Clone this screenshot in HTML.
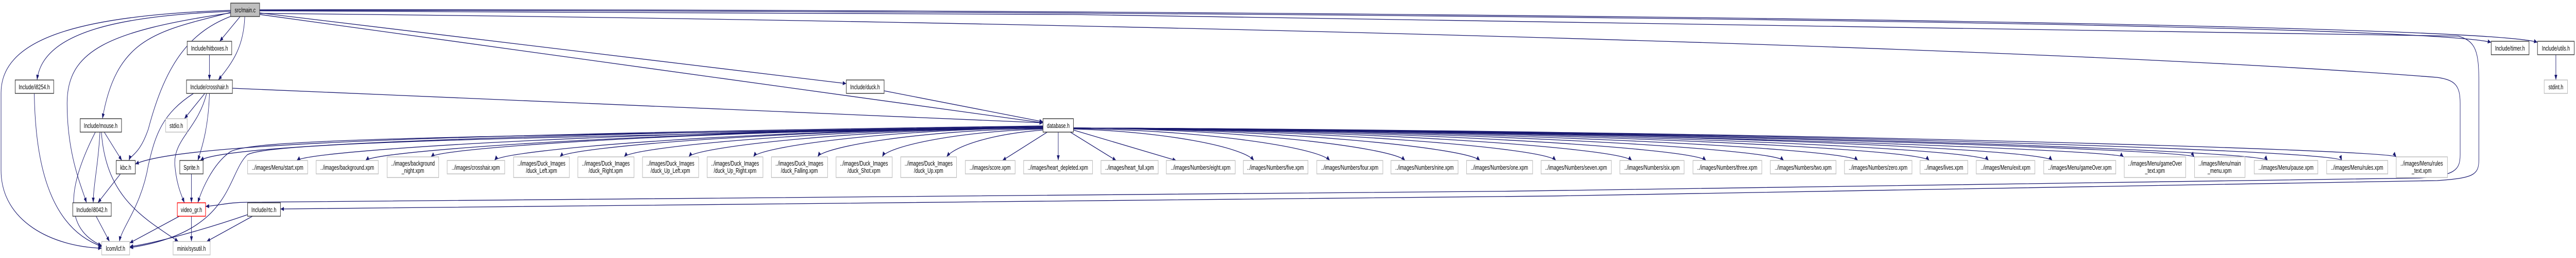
<!DOCTYPE html>
<html><head><meta charset="utf-8"><style>
html,body{margin:0;padding:0;background:#fff;overflow:hidden;width:100vw;height:100vh;}
svg{display:block;width:100vw;height:100vh;}
text{font-family:"Liberation Sans",sans-serif;font-size:13px;fill:#000;text-anchor:middle;}
.n{fill:#fff;stroke:#404040;stroke-width:1.5;}
.l{fill:#fff;stroke:#bfbfbf;stroke-width:1.5;}
.e{fill:none;stroke:#191970;stroke-width:1.3;marker-end:url(#a);}
</style></head><body>
<svg viewBox="0 0 7293 500" preserveAspectRatio="none" xmlns="http://www.w3.org/2000/svg">
<defs><marker id="a" markerUnits="userSpaceOnUse" markerWidth="11" markerHeight="9" refX="10" refY="4" orient="auto"><path d="M0,0 L10,4 L0,8 z" fill="#191970"/></marker></defs>

<path class="e" d="M653,22 C350,30 120,60 105,155"/>
<path class="e" d="M653,20 C200,30 3,80 3,180 L3,330 C3,430 150,478 288,481"/>
<path class="e" d="M653,24 C450,60 330,70 290,230"/>
<path class="e" d="M653,25 C300,60 190,100 190,200 C190,300 230,360 245,393"/>
<path class="e" d="M660,30 C540,60 470,120 420,250 C395,300 370,300 365,311"/>
<path class="e" d="M680,32 L622,80"/>
<path class="e" d="M693,32 C690,90 660,120 618,155"/>
<path class="e" d="M735,25 L2396,162"/>
<path class="e" d="M735,28 L2953,238"/>
<path class="e" d="M735,20 C3000,20 6800,40 7053,82"/>
<path class="e" d="M735,19 C3000,16 7000,40 7184,82"/>
<path class="e" d="M735,21 C3000,22 6850,50 6960,70 C7010,80 7018,100 7018,160 L7018,310 C7018,340 7000,345 6900,350 C5000,380 1500,405 794,405"/>
<path class="e" d="M735,26 C3000,40 5800,90 6900,150 C6950,155 6965,165 6965,200 L6965,300 C6965,330 6950,340 6850,345 C5000,370 1500,390 700,392 C650,392 620,398 582,400"/>
<path class="e" d="M593,106 L593,155"/>
<path class="e" d="M580,181 L522,230"/>
<path class="e" d="M593,181 C590,250 570,290 560,311"/>
<path class="e" d="M585,181 C560,250 490,270 495,320 C500,360 515,380 522,393"/>
<path class="e" d="M548,181 C460,220 440,260 420,320 C400,400 345,440 338,468"/>
<path class="e" d="M658,171 L2953,238"/>
<path class="e" d="M2503,176 L2953,236"/>
<path class="e" d="M295,256 L345,311"/>
<path class="e" d="M283,256 C278,320 264,360 264,393"/>
<path class="e" d="M270,256 C200,350 170,440 288,476"/>
<path class="e" d="M287,256 C300,380 400,420 505,468"/>
<path class="e" d="M341,337 L277,393"/>
<path class="e" d="M97,181 C100,300 130,440 290,478"/>
<path class="e" d="M272,419 L310,468"/>
<path class="e" d="M542,337 L542,393"/>
<path class="e" d="M508,419 L367,471"/>
<path class="e" d="M542,419 L542,468"/>
<path class="e" d="M701,416 C600,440 450,470 367,478"/>
<path class="e" d="M715,419 L585,468"/>
<path class="e" d="M7236,106 L7236,155"/>
<path class="e" d="M2953,244 C1200,260 500,280 383,318"/>
<path class="e" d="M2953,245 C1200,262 620,285 567,311"/>
<path class="e" d="M2953,246 C1200,265 700,270 650,295 C600,320 570,370 560,393"/>
<path class="e" d="M2953,247 C1200,268 750,280 700,300 C640,340 660,450 367,480"/>
<path class="e" d="M2953,248 C1870,250 880,290 840,311"/>
<path class="e" d="M2953,248 C1970,250 1070,290 1035,311"/>
<path class="e" d="M2953,248 C2060,250 1250,285 1220,304"/>
<path class="e" d="M2953,248 C2150,250 1420,290 1400,311"/>
<path class="e" d="M2953,248 C2240,250 1610,285 1585,304"/>
<path class="e" d="M2953,248 C2330,250 1790,285 1767,304"/>
<path class="e" d="M2953,248 C2420,250 1970,285 1950,304"/>
<path class="e" d="M2953,248 C2510,250 2150,285 2133,304"/>
<path class="e" d="M2953,249 C2600,252 2330,285 2315,304"/>
<path class="e" d="M2953,250 C2700,255 2510,285 2498,304"/>
<path class="e" d="M2953,252 C2800,260 2700,285 2680,304"/>
<path class="e" d="M2965,256 L2838,311"/>
<path class="e" d="M2996,256 L2996,311"/>
<path class="e" d="M3030,256 L3160,311"/>
<path class="e" d="M3039,252 L3330,311"/>
<path class="e" d="M3039,250 C3300,255 3520,285 3550,311"/>
<path class="e" d="M3039,249 C3400,252 3730,285 3765,311"/>
<path class="e" d="M3039,248 C3500,250 3940,285 3978,311"/>
<path class="e" d="M3039,248 C3600,250 4150,285 4190,311"/>
<path class="e" d="M3039,248 C3700,250 4370,285 4405,311"/>
<path class="e" d="M3039,248 C3800,250 4580,285 4620,311"/>
<path class="e" d="M3039,248 C3900,250 4790,285 4830,311"/>
<path class="e" d="M3039,248 C4000,250 5010,285 5050,311"/>
<path class="e" d="M3039,248 C4100,250 5220,285 5260,311"/>
<path class="e" d="M3039,248 C4200,250 5430,285 5462,311"/>
<path class="e" d="M3039,248 C4300,250 5600,285 5630,311"/>
<path class="e" d="M3039,248 C4400,250 5780,285 5810,311"/>
<path class="e" d="M3039,248 C4500,252 5990,290 6012,304"/>
<path class="e" d="M3039,248 C4600,252 6200,290 6212,304"/>
<path class="e" d="M3039,248 C4700,252 6400,290 6420,311"/>
<path class="e" d="M3039,248 C4800,252 6620,290 6630,311"/>
<path class="e" d="M3039,248 C4900,252 6770,290 6784,304"/>

<rect x="653" y="6" width="82" height="26" fill="#bfbfbf" stroke="#404040" stroke-width="1.5"/><text x="694" y="24">src/main.c</text>
<rect class="n" x="530" y="80" width="126" height="26"/><text x="593" y="98">Include/hitboxes.h</text>
<rect class="n" x="7053" y="80" width="107" height="26"/><text x="7106" y="98">Include/timer.h</text>
<rect class="n" x="7184" y="80" width="104" height="26"/><text x="7236" y="98">Include/utils.h</text>
<rect class="n" x="43" y="155" width="109" height="26"/><text x="97" y="173">Include/i8254.h</text>
<rect class="n" x="528" y="155" width="130" height="26"/><text x="593" y="173">Include/crosshair.h</text>
<rect class="n" x="2396" y="155" width="107" height="26"/><text x="2449" y="173">Include/duck.h</text>
<rect class="l" x="7203" y="155" width="66" height="26"/><text x="7236" y="173">stdint.h</text>
<rect class="n" x="227" y="230" width="117" height="26"/><text x="285" y="248">Include/mouse.h</text>
<rect class="l" x="469" y="230" width="61" height="26"/><text x="499" y="248">stdio.h</text>
<rect class="n" x="2953" y="230" width="86" height="26"/><text x="2996" y="248">database.h</text>
<rect class="n" x="329" y="311" width="54" height="26"/><text x="356" y="329">kbc.h</text>
<rect class="n" x="509" y="311" width="66" height="26"/><text x="542" y="329">Sprite.h</text>
<rect class="n" x="206" y="393" width="109" height="26"/><text x="260" y="411">Include/i8042.h</text>
<rect x="502" y="393" width="80" height="26" fill="#fff" stroke="#ff0000" stroke-width="1.5"/><text x="542" y="411">video_gr.h</text>
<rect class="n" x="701" y="393" width="93" height="26"/><text x="747" y="411">Include/rtc.h</text>
<rect class="l" x="288" y="468" width="79" height="26"/><text x="327" y="486">lcom/lcf.h</text>
<rect class="l" x="490" y="468" width="105" height="26"/><text x="542" y="486">minix/sysutil.h</text>

<rect class="l" x="701" y="311" width="170" height="26"/><text x="786" y="329">../images/Menu/start.xpm</text>
<rect class="l" x="895" y="311" width="176" height="26"/><text x="983" y="329">../images/background.xpm</text>
<rect class="l" x="1096" y="304" width="146" height="40"/><text x="1169" y="321">../images/background</text><text x="1169" y="335">_night.xpm</text>
<rect class="l" x="1266" y="311" width="163" height="26"/><text x="1347" y="329">../images/crosshair.xpm</text>
<rect class="l" x="1454" y="304" width="158" height="40"/><text x="1533" y="321">../images/Duck_Images</text><text x="1533" y="335">/duck_Left.xpm</text>
<rect class="l" x="1636" y="304" width="159" height="40"/><text x="1715" y="321">../images/Duck_Images</text><text x="1715" y="335">/duck_Right.xpm</text>
<rect class="l" x="1819" y="304" width="159" height="40"/><text x="1898" y="321">../images/Duck_Images</text><text x="1898" y="335">/duck_Up_Left.xpm</text>
<rect class="l" x="2002" y="304" width="158" height="40"/><text x="2081" y="321">../images/Duck_Images</text><text x="2081" y="335">/duck_Up_Right.xpm</text>
<rect class="l" x="2184" y="304" width="159" height="40"/><text x="2263" y="321">../images/Duck_Images</text><text x="2263" y="335">/duck_Falling.xpm</text>
<rect class="l" x="2367" y="304" width="159" height="40"/><text x="2446" y="321">../images/Duck_Images</text><text x="2446" y="335">/duck_Shot.xpm</text>
<rect class="l" x="2550" y="304" width="158" height="40"/><text x="2629" y="321">../images/Duck_Images</text><text x="2629" y="335">/duck_Up.xpm</text>
<rect class="l" x="2733" y="311" width="141" height="26"/><text x="2803" y="329">../images/score.xpm</text>
<rect class="l" x="2898" y="311" width="195" height="26"/><text x="2995" y="329">../images/heart_depleted.xpm</text>
<rect class="l" x="3117" y="311" width="162" height="26"/><text x="3198" y="329">../images/heart_full.xpm</text>
<rect class="l" x="3302" y="311" width="195" height="26"/><text x="3399" y="329">../images/Numbers/eight.xpm</text>
<rect class="l" x="3520" y="311" width="183" height="26"/><text x="3611" y="329">../images/Numbers/five.xpm</text>
<rect class="l" x="3728" y="311" width="187" height="26"/><text x="3821" y="329">../images/Numbers/four.xpm</text>
<rect class="l" x="3938" y="311" width="190" height="26"/><text x="4033" y="329">../images/Numbers/nine.xpm</text>
<rect class="l" x="4152" y="311" width="187" height="26"/><text x="4245" y="329">../images/Numbers/one.xpm</text>
<rect class="l" x="4363" y="311" width="199" height="26"/><text x="4462" y="329">../images/Numbers/seven.xpm</text>
<rect class="l" x="4586" y="311" width="182" height="26"/><text x="4677" y="329">../images/Numbers/six.xpm</text>
<rect class="l" x="4793" y="311" width="195" height="26"/><text x="4890" y="329">../images/Numbers/three.xpm</text>
<rect class="l" x="5012" y="311" width="186" height="26"/><text x="5105" y="329">../images/Numbers/two.xpm</text>
<rect class="l" x="5222" y="311" width="191" height="26"/><text x="5317" y="329">../images/Numbers/zero.xpm</text>
<rect class="l" x="5436" y="311" width="135" height="26"/><text x="5503" y="329">../images/lives.xpm</text>
<rect class="l" x="5595" y="311" width="166" height="26"/><text x="5678" y="329">../images/Menu/exit.xpm</text>
<rect class="l" x="5786" y="311" width="204" height="26"/><text x="5888" y="329">../images/Menu/gameOver.xpm</text>
<rect class="l" x="6014" y="304" width="174" height="40"/><text x="6101" y="321">../images/Menu/gameOver</text><text x="6101" y="335">_text.xpm</text>
<rect class="l" x="6213" y="304" width="143" height="40"/><text x="6284" y="321">../images/Menu/main</text><text x="6284" y="335">_menu.xpm</text>
<rect class="l" x="6382" y="311" width="180" height="26"/><text x="6472" y="329">../images/Menu/pause.xpm</text>
<rect class="l" x="6587" y="311" width="173" height="26"/><text x="6673" y="329">../images/Menu/rules.xpm</text>
<rect class="l" x="6784" y="304" width="145" height="40"/><text x="6856" y="321">../images/Menu/rules</text><text x="6856" y="335">_text.xpm</text>
</svg>
</body></html>
